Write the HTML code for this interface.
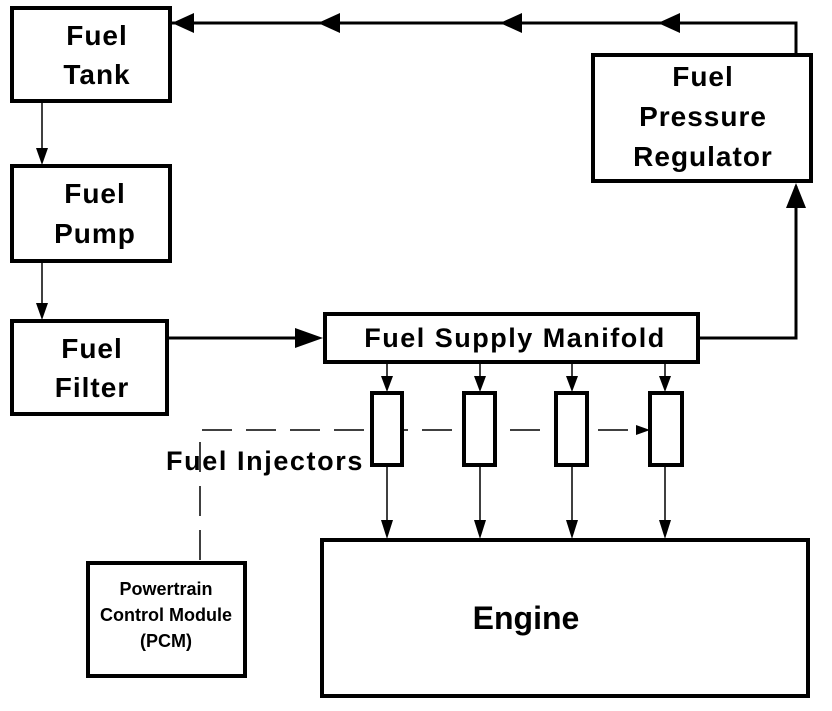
<!DOCTYPE html>
<html><head><style>
body{margin:0;background:#fff;}
svg text{font-family:"Liberation Sans",Arial,sans-serif;font-weight:bold;fill:#000;text-anchor:middle;}
</style></head><body>
<svg width="832" height="706" viewBox="0 0 832 706" xmlns="http://www.w3.org/2000/svg">
<g stroke="#000" stroke-width="1.5" fill="none">
<polyline points="200,560 200,430 640,430" stroke-dasharray="30,14"/>
</g>
<g fill="#fff" stroke="#000" stroke-width="4">
<rect x="12" y="8" width="158" height="93"/>
<rect x="12" y="166" width="158" height="95"/>
<rect x="12" y="321" width="155" height="93"/>
<rect x="593" y="55" width="218" height="126"/>
<rect x="325" y="314" width="373" height="48"/>
<rect x="372" y="393" width="30" height="72"/>
<rect x="464" y="393" width="31" height="72"/>
<rect x="556" y="393" width="31" height="72"/>
<rect x="650" y="393" width="32" height="72"/>
<rect x="322" y="540" width="486" height="156"/>
<rect x="88" y="563" width="157" height="113"/>
</g>
<g stroke="#000" stroke-width="3" fill="none">
<polyline points="796,55 796,23 172,23"/>
<polyline points="698,338 796,338 796,186"/>
<line x1="167" y1="338" x2="300" y2="338"/>
</g>
<g stroke="#000" stroke-width="1.5" fill="none">
<line x1="42" y1="101" x2="42" y2="150"/>
<line x1="42" y1="261" x2="42" y2="305"/>
<line x1="387" y1="362" x2="387" y2="380"/><line x1="480" y1="362" x2="480" y2="380"/><line x1="572" y1="362" x2="572" y2="380"/><line x1="665" y1="362" x2="665" y2="380"/>
<line x1="387" y1="465" x2="387" y2="525"/><line x1="480" y1="465" x2="480" y2="525"/><line x1="572" y1="465" x2="572" y2="525"/><line x1="665" y1="465" x2="665" y2="525"/>
</g>
<g fill="#000">
<polygon points="172,23 194,13 194,33"/>
<polygon points="318,23 340,13 340,33"/>
<polygon points="500,23 522,13 522,33"/>
<polygon points="658,23 680,13 680,33"/>
<polygon points="796,183 786,208 806,208"/>
<polygon points="323,338 295,328 295,348"/>
<polygon points="42,165 36,148 48,148"/>
<polygon points="42,320 36,303 48,303"/>
<polygon points="387,392 381,376 393,376"/><polygon points="480,392 474,376 486,376"/><polygon points="572,392 566,376 578,376"/><polygon points="665,392 659,376 671,376"/>
<polygon points="387,539 381,520 393,520"/><polygon points="480,539 474,520 486,520"/><polygon points="572,539 566,520 578,520"/><polygon points="665,539 659,520 671,520"/>
<polygon points="650,430 636,425 636,435"/>
</g>
<g letter-spacing="1">
<text x="97" y="45" font-size="28">Fuel</text>
<text x="97" y="84" font-size="28">Tank</text>
<text x="95" y="203" font-size="28">Fuel</text>
<text x="95" y="243" font-size="28">Pump</text>
<text x="92" y="358" font-size="28">Fuel</text>
<text x="92" y="397" font-size="28">Filter</text>
<text x="703" y="86" font-size="28">Fuel</text>
<text x="703" y="126" font-size="28">Pressure</text>
<text x="703" y="166" font-size="28">Regulator</text>
</g>
<text x="515" y="347" font-size="27" letter-spacing="1.5">Fuel Supply Manifold</text>
<text x="265" y="470" font-size="27" letter-spacing="1.6">Fuel Injectors</text>
<text x="526" y="629" font-size="32">Engine</text>
<text x="166" y="595" font-size="18">Powertrain</text>
<text x="166" y="621" font-size="18">Control Module</text>
<text x="166" y="647" font-size="18">(PCM)</text>
</svg>
</body></html>
